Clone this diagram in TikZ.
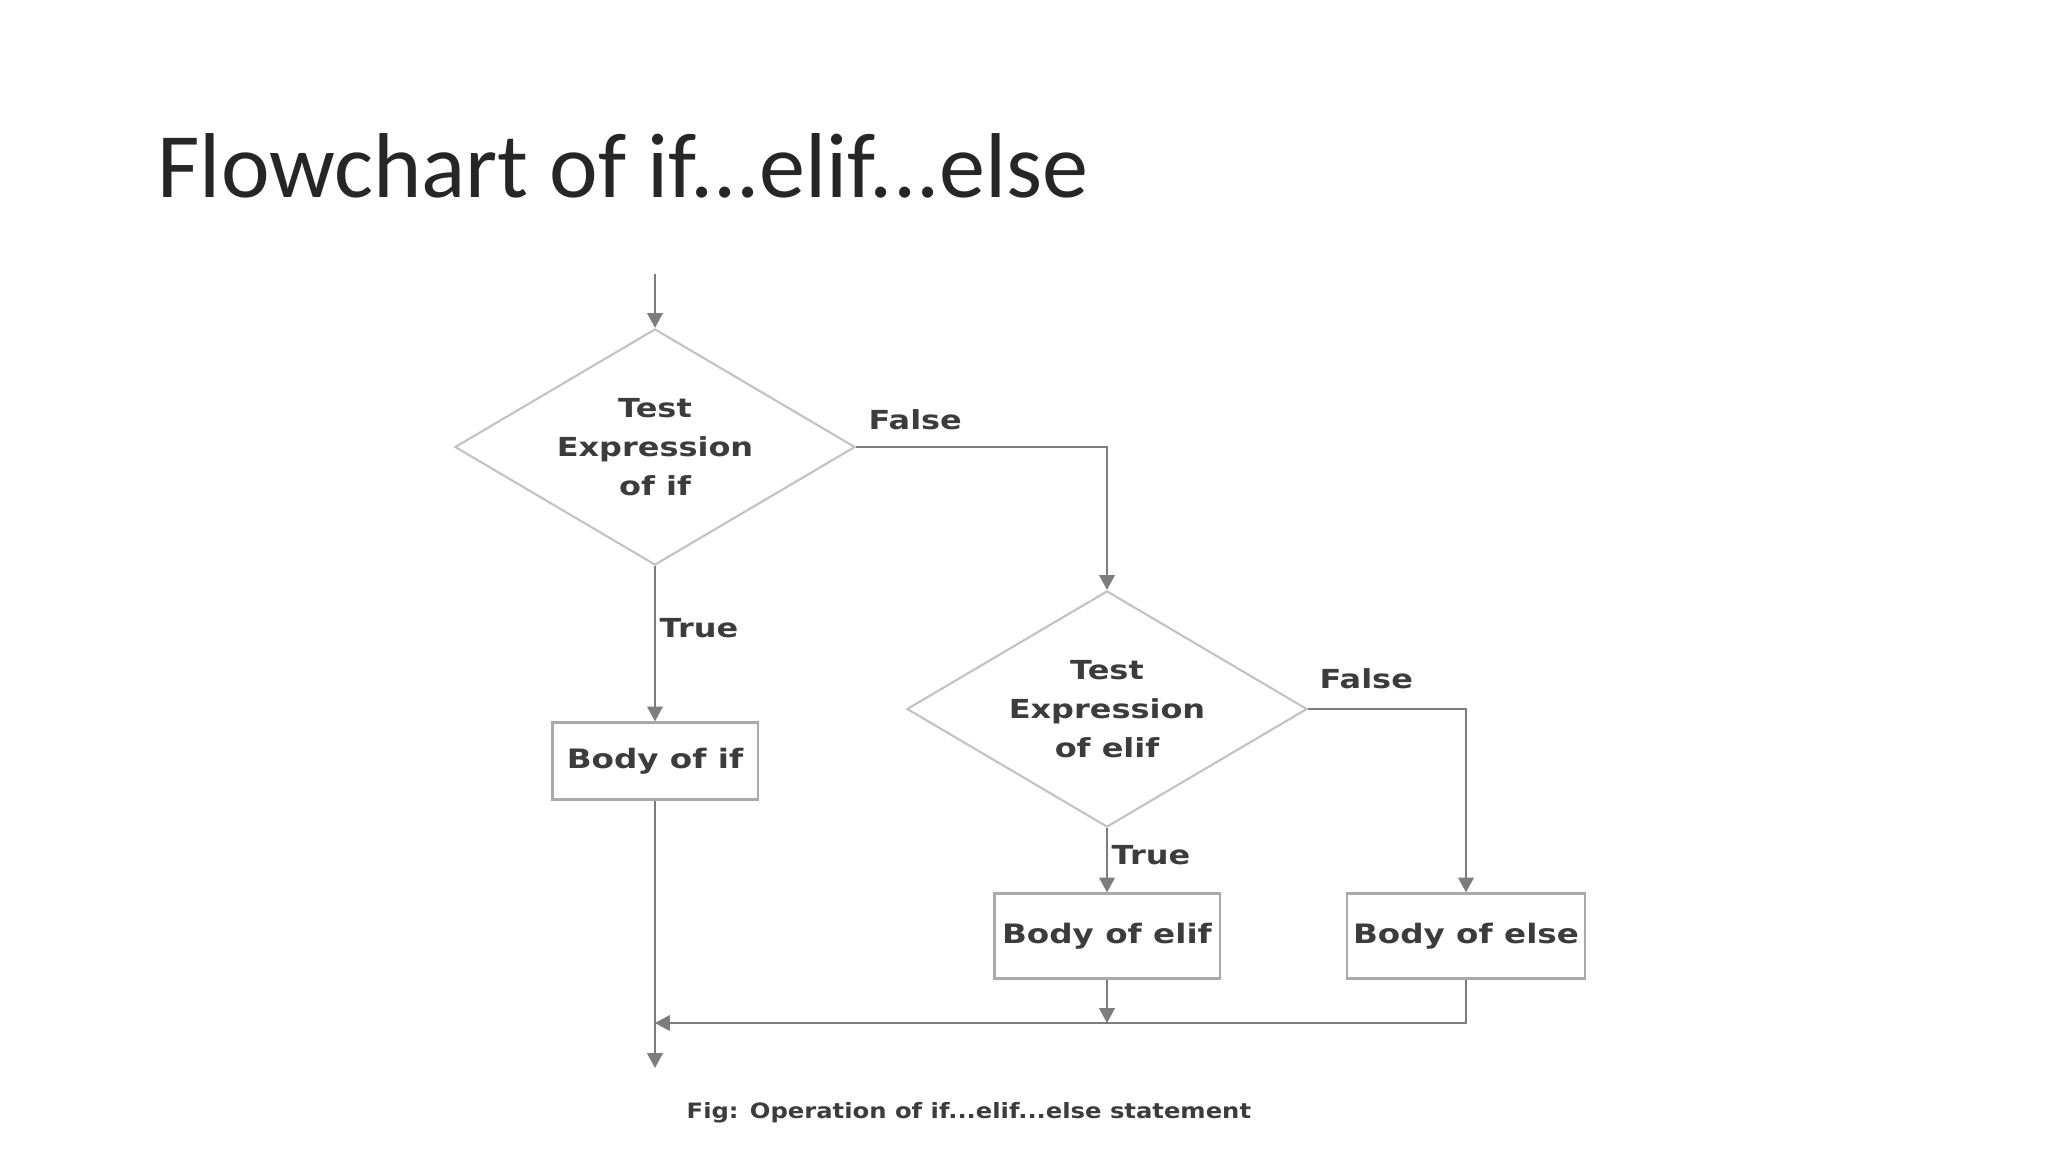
\documentclass[tikz,border=0pt]{standalone}
\usepackage{fontspec}
\setmainfont{Carlito}
\newfontfamily\df{DejaVu Sans}[FakeStretch=1.22]
\newfontfamily\cf{DejaVu Sans}[FakeStretch=1.15]
\usetikzlibrary{shapes.geometric,arrows.meta}
\definecolor{txt}{RGB}{60,60,60}
\definecolor{ln}{RGB}{125,125,125}
\definecolor{dia}{RGB}{195,195,195}
\definecolor{bx}{RGB}{170,170,170}
\begin{document}
\begin{tikzpicture}[x=0.01cm,y=-0.01cm,
  arr/.style={draw=ln, line width=0.6pt, -{Triangle[length=4.2pt,width=4.4pt]}},
  dec/.style={shape=diamond, draw=dia, line width=0.6pt, minimum width=4cm, minimum height=2.36cm, aspect=1.69, inner sep=0pt, align=center, text=txt, font=\df\bfseries\fontsize{7.45}{11.1}\selectfont},
  boxn/.style={draw=bx, line width=0.6pt, inner sep=0pt, text=txt, font=\df\bfseries\fontsize{7.6}{9}\selectfont},
  lbl/.style={inner sep=0pt, text=txt, font=\df\bfseries\fontsize{7.45}{9}\selectfont, anchor=base west}]
\useasboundingbox[fill=white] (0,0) rectangle (2048,1152);
\node[anchor=base west, inner sep=0pt, font=\fontsize{26.2}{31}\selectfont, text=black!85] (title) at (157,198) {Flowchart of if...elif...else};
\coordinate (start) at (655,274);
\node[dec] (d1) at (655,447) {Test\\Expression\\of if};
\node[dec] (d2) at (1107,709) {Test\\Expression\\of elif};
\node[boxn, minimum width=2.05cm, minimum height=0.77cm] (bif) at (655,761) {Body of if};
\node[boxn, minimum width=2.25cm, minimum height=0.85cm] (belif) at (1107,936) {Body of elif};
\node[boxn, minimum width=2.38cm, minimum height=0.85cm] (belse) at (1466,936) {Body of else};
\node[lbl] (f1) at (868,430) {False};
\node[lbl] (t1) at (659,637) {True};
\node[lbl] (f2) at (1319,689) {False};
\node[lbl] (t2) at (1111,864) {True};
\coordinate (j) at (655,1023);
\coordinate (m) at (1107,1023);
\coordinate (e) at (655,1068);
\draw[arr] (start) -- (d1.north);
\draw[arr] (d1.east) -| (d2.north);
\draw[arr] (d1.south) -- (bif.north);
\draw[arr] (d2.south) -- (belif.north);
\draw[arr] (d2.east) -| (belse.north);
\draw[arr] (bif.south) -- (e);
\draw[arr] (belif.south) -- (m);
\draw[arr] (belse.south) |- (j);
\node[anchor=base west, inner sep=0pt, text=txt, font=\cf\bfseries\fontsize{6.0}{7}\selectfont] (cap) at (686,1118) {Fig: Operation of if...elif...else statement};
\end{tikzpicture}
\end{document}
